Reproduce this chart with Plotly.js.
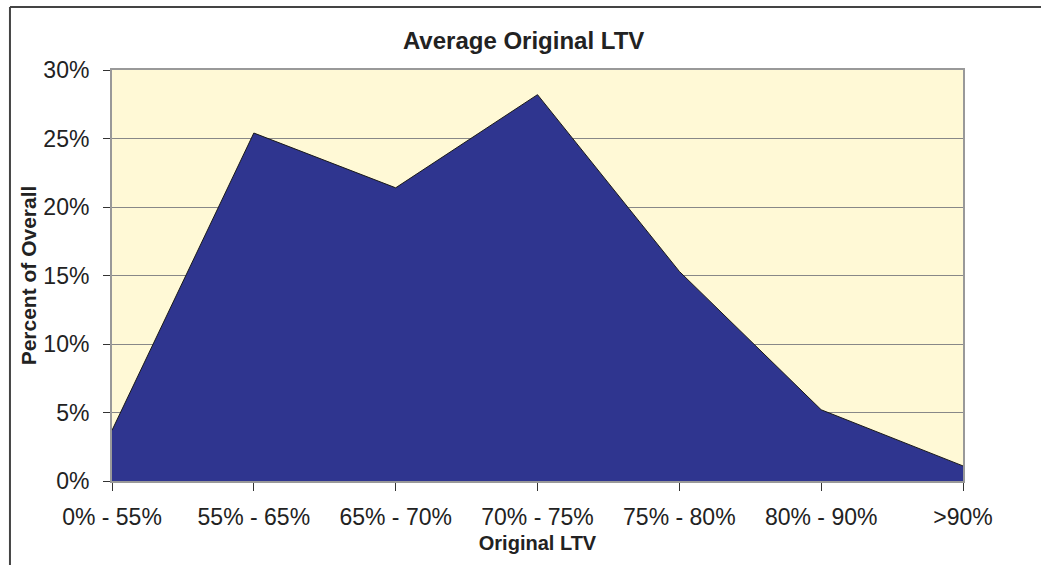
<!DOCTYPE html>
<html>
<head>
<meta charset="utf-8">
<script src="https://cdn.plot.ly/plotly-3.0.1.min.js"></script>
<style>html,body{margin:0;padding:0;background:#fff;}#chart{width:1041px;height:565px;}</style>
</head>
<body>
<div id="chart"></div>
<script>
const categories = ["0% - 55%", "55% - 65%", "65% - 70%", "70% - 75%", "75% - 80%", "80% - 90%", ">90%"];
const percentOfOverall = [0.037, 0.254, 0.214, 0.282, 0.153, 0.052, 0.011];
const yTickValues = [0, 0.05, 0.10, 0.15, 0.20, 0.25, 0.30];
const yTickLabels = ["0%", "5%", "10%", "15%", "20%", "25%", "30%"];

const trace = {
  type: "scatter",
  mode: "lines",
  x: categories,
  y: percentOfOverall,
  fill: "tozeroy",
  fillcolor: "#2F358F",
  line: {color: "#1a1a1a", width: 1},
  hoverinfo: "x+y"
};

const layout = {
  width: 1041, height: 565,
  margin: {l: 112, r: 78, t: 70, b: 84},
  paper_bgcolor: "#ffffff",
  plot_bgcolor: "#FFF9D6",
  showlegend: false,
  font: {family: "Liberation Sans, Arial, sans-serif", color: "#222"},
  title: {
    text: "<b>Average Original LTV</b>",
    font: {size: 24, color: "#222"},
    x: 0.503, xref: "container", xanchor: "center",
    y: 0.928, yref: "container", yanchor: "middle"
  },
  xaxis: {
    type: "category",
    range: [0, 6],
    showgrid: false,
    zeroline: false,
    showline: true, linecolor: "#999", linewidth: 2, mirror: true,
    ticks: "outside", ticklen: 8, tickcolor: "#333", tickwidth: 1,
    tickfont: {size: 23, color: "#222"},
    ticklabelstandoff: 6,
    title: {text: "<b>Original LTV</b>", font: {size: 20, color: "#222"}, standoff: 7}
  },
  yaxis: {
    range: [0, 0.30],
    tickvals: yTickValues,
    ticktext: yTickLabels,
    showgrid: true, gridcolor: "#888", gridwidth: 1,
    zeroline: false,
    showline: true, linecolor: "#999", linewidth: 2, mirror: true,
    ticks: "outside", ticklen: 7, tickcolor: "#333", tickwidth: 1,
    tickfont: {size: 23, color: "#222"},
    ticklabelstandoff: 9,
    title: {text: "<b>Percent of Overall</b>", font: {size: 21, color: "#222"}, standoff: 1}
  },
  shapes: [
    {type: "line", xref: "paper", yref: "paper", x0: -0.1199, x1: 1.2, y0: 1.1533, y1: 1.1533, line: {color: "#444", width: 2}},
    {type: "line", xref: "paper", yref: "paper", x0: -0.1199, x1: -0.1199, y0: 1.1533, y1: -0.25, line: {color: "#444", width: 2}}
  ]
};

Plotly.newPlot("chart", [trace], layout, {displayModeBar: false, staticPlot: true});
</script>
</body>
</html>
